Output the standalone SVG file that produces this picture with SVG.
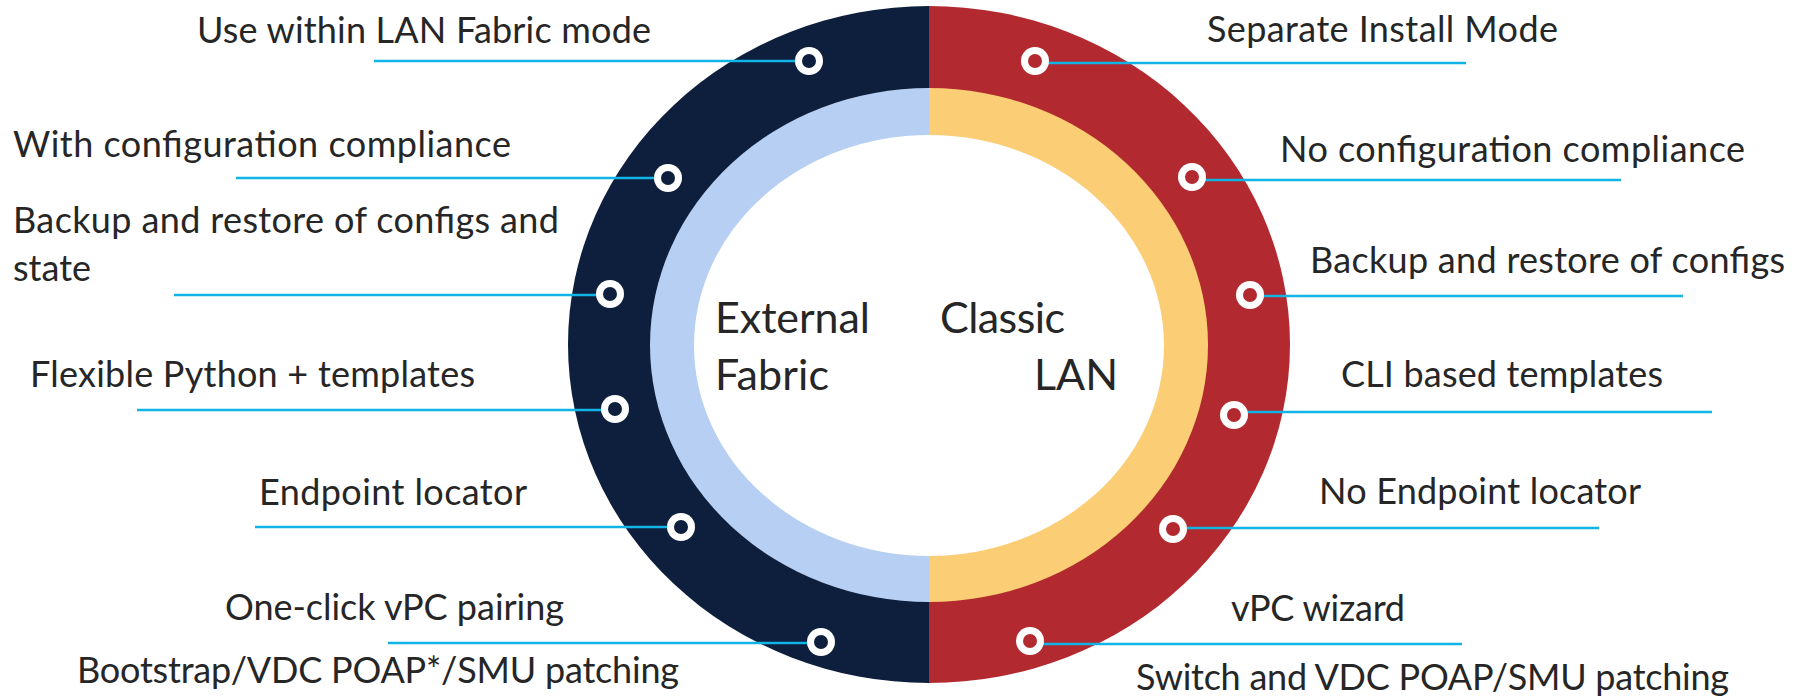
<svg xmlns="http://www.w3.org/2000/svg" width="1806" height="698" viewBox="0 0 1806 698">
  <style>
    .lbl { font-family: Lato, "Liberation Sans", sans-serif; font-size: 36px; fill: #262626; }
    .mid { font-family: Lato, "Liberation Sans", sans-serif; font-size: 43px; fill: #262626; }
    .lead { stroke: #12B4E6; stroke-width: 2.5; fill: none; }
    .ring { fill: #FFFFFF; }
    .hole-l { fill: #0D1F3C; }
    .hole-r { fill: #B22A2F; }
  </style>

  <!-- two-tone ring -->
  <g id="ring">
    <path d="M929,6 A361,338.5 0 0,0 929,683 Z" fill="#0D1F3C"/>
    <path d="M929,6 A361,338.5 0 0,1 929,683 Z" fill="#B22A2F"/>
    <path d="M929,88 A279,257 0 0,0 929,602 Z" fill="#B7CFF2"/>
    <path d="M929,88 A279,257 0 0,1 929,602 Z" fill="#FBCD74"/>
    <ellipse cx="929" cy="345.5" rx="235" ry="210.5" fill="#FFFFFF"/>
  </g>

  <g id="center-labels">
    <text class="mid" x="715" y="333" textLength="155" lengthAdjust="spacing">External</text>
    <text class="mid" x="715" y="390" textLength="114" lengthAdjust="spacing">Fabric</text>
    <text class="mid" x="940" y="333" textLength="125" lengthAdjust="spacing">Classic</text>
    <text class="mid" x="1034" y="390">LAN</text>
  </g>

  <!-- leader lines -->
  <g id="connectors">
    <line class="lead" x1="374" y1="61" x2="809" y2="61"/>
    <line class="lead" x1="236" y1="178" x2="668" y2="178"/>
    <line class="lead" x1="174" y1="295" x2="610" y2="295"/>
    <line class="lead" x1="137" y1="410" x2="615" y2="410"/>
    <line class="lead" x1="255" y1="527" x2="681" y2="527"/>
    <line class="lead" x1="388" y1="643" x2="821" y2="643"/>

    <line class="lead" x1="1035" y1="63" x2="1466" y2="63"/>
    <line class="lead" x1="1192" y1="180" x2="1621" y2="180"/>
    <line class="lead" x1="1250" y1="296" x2="1683" y2="296"/>
    <line class="lead" x1="1234" y1="412" x2="1712" y2="412"/>
    <line class="lead" x1="1173" y1="528" x2="1599" y2="528"/>
    <line class="lead" x1="1030" y1="644" x2="1462" y2="644"/>
  </g>

  <!-- left side: External Fabric features -->
  <g id="ef-lan-fabric">
    <circle class="ring" cx="809" cy="61" r="14"/><circle class="hole-l" cx="809" cy="61" r="7"/>
    <text class="lbl" x="197" y="43" textLength="454" lengthAdjust="spacing">Use within LAN Fabric mode</text>
  </g>
  <g id="ef-compliance">
    <circle class="ring" cx="668" cy="178" r="14"/><circle class="hole-l" cx="668" cy="178" r="7"/>
    <text class="lbl" x="13" y="157" textLength="498" lengthAdjust="spacing">With configuration compliance</text>
  </g>
  <g id="ef-backup">
    <circle class="ring" cx="610" cy="294" r="14"/><circle class="hole-l" cx="610" cy="294" r="7"/>
    <text class="lbl" x="13" y="233" textLength="546" lengthAdjust="spacing">Backup and restore of configs and</text>
    <text class="lbl" x="13" y="281" textLength="78" lengthAdjust="spacing">state</text>
  </g>
  <g id="ef-templates">
    <circle class="ring" cx="615" cy="409" r="14"/><circle class="hole-l" cx="615" cy="409" r="7"/>
    <text class="lbl" x="30" y="387" textLength="445" lengthAdjust="spacing">Flexible Python + templates</text>
  </g>
  <g id="ef-endpoint">
    <circle class="ring" cx="681" cy="527" r="14"/><circle class="hole-l" cx="681" cy="527" r="7"/>
    <text class="lbl" x="259" y="505" textLength="268" lengthAdjust="spacing">Endpoint locator</text>
  </g>
  <g id="ef-vpc">
    <circle class="ring" cx="821" cy="642" r="14"/><circle class="hole-l" cx="821" cy="642" r="7"/>
    <text class="lbl" x="225" y="620" textLength="339" lengthAdjust="spacing">One-click vPC pairing</text>
    <text class="lbl" x="77" y="683" textLength="602" lengthAdjust="spacing">Bootstrap/VDC POAP*/SMU patching</text>
  </g>

  <!-- right side: Classic LAN features -->
  <g id="cl-install">
    <circle class="ring" cx="1035" cy="61" r="14"/><circle class="hole-r" cx="1035" cy="61" r="7"/>
    <text class="lbl" x="1207" y="42" textLength="351" lengthAdjust="spacing">Separate Install Mode</text>
  </g>
  <g id="cl-compliance">
    <circle class="ring" cx="1192" cy="177" r="14"/><circle class="hole-r" cx="1192" cy="177" r="7"/>
    <text class="lbl" x="1280" y="162" textLength="465" lengthAdjust="spacing">No configuration compliance</text>
  </g>
  <g id="cl-backup">
    <circle class="ring" cx="1250" cy="295" r="14"/><circle class="hole-r" cx="1250" cy="295" r="7"/>
    <text class="lbl" x="1310" y="273" textLength="475" lengthAdjust="spacing">Backup and restore of configs</text>
  </g>
  <g id="cl-templates">
    <circle class="ring" cx="1234" cy="415" r="14"/><circle class="hole-r" cx="1234" cy="415" r="7"/>
    <text class="lbl" x="1341" y="387" textLength="322" lengthAdjust="spacing">CLI based templates</text>
  </g>
  <g id="cl-endpoint">
    <circle class="ring" cx="1173" cy="529" r="14"/><circle class="hole-r" cx="1173" cy="529" r="7"/>
    <text class="lbl" x="1319" y="504" textLength="322" lengthAdjust="spacing">No Endpoint locator</text>
  </g>
  <g id="cl-vpc">
    <circle class="ring" cx="1030" cy="641" r="14"/><circle class="hole-r" cx="1030" cy="641" r="7"/>
    <text class="lbl" x="1231" y="621" textLength="174" lengthAdjust="spacing">vPC wizard</text>
    <text class="lbl" x="1136" y="690" textLength="593" lengthAdjust="spacing">Switch and VDC POAP/SMU patching</text>
  </g>
</svg>
